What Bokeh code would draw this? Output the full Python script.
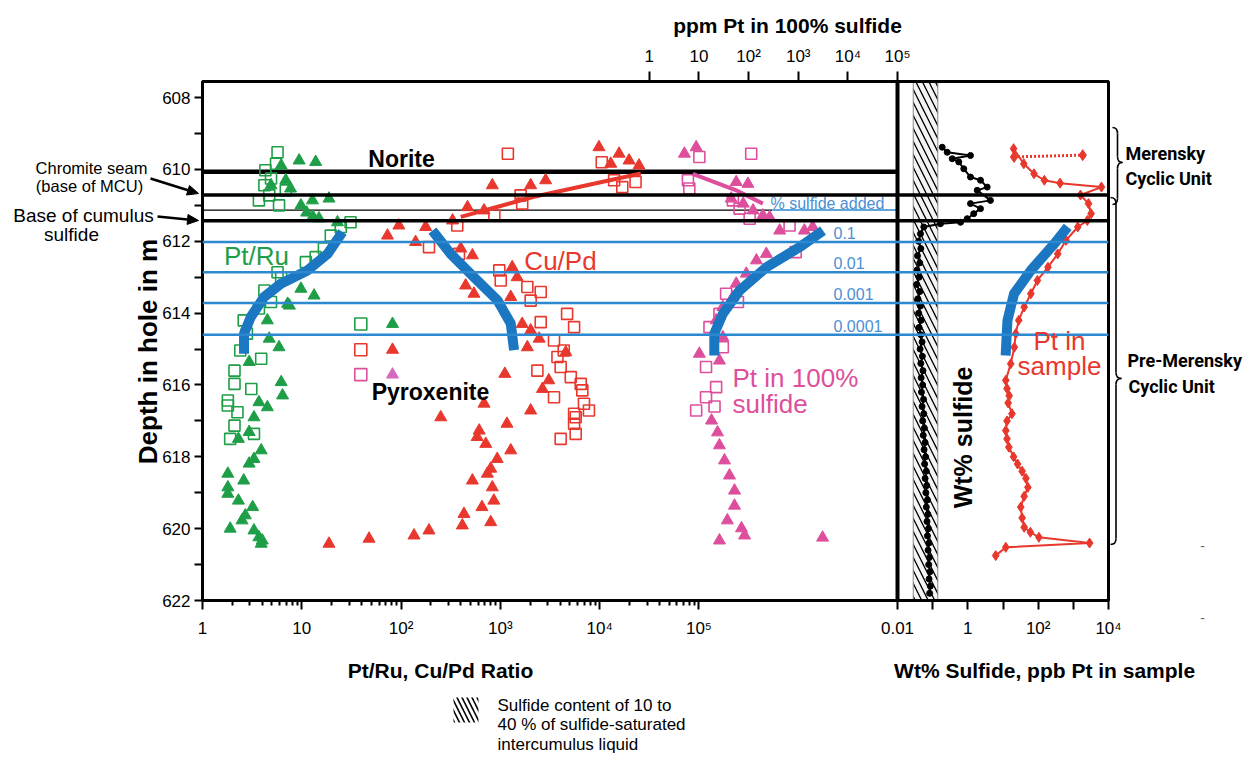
import math
from bokeh.plotting import figure
from bokeh.models import (Range1d, LogScale, LogAxis, FixedTicker, Span)
from bokeh.core.properties import value
from bokeh.embed import file_html
from bokeh.resources import INLINE

# ---------------- data ----------------
depth_ticks = [608, 610, 612, 614, 616, 618, 620, 622]
depth_minor = [609, 611, 613, 615, 617, 619, 621]
ratio_ticks = [1, 10, 100, 1000, 10000, 100000]
ratio_labels = ["1", "10", "10²", "10³", "10⁴", "10⁵"]
ppm_ticks = [1, 10, 100, 1000, 10000, 100000]
ppm_labels = ["1", "10", "10²", "10³", "10⁴", "10⁵"]
wt_ticks = [0.01, 0.1, 1, 10, 100, 1000, 10000]
wt_labels = ["0.01", "", "1", "", "10²", "", "10⁴"]

norite_depth = 610.06
chromite_depth = 610.71
thin_depth = 611.13
base_sulfide_depth = 611.43
added_depths = [612.02, 612.86, 613.72, 614.60]
added_labels = ["0.1", "0.01", "0.001", "0.0001"]
hatch_band = [0.028, 0.14]

# Pt/Ru (green)
ptru_sq_x = [5.7, 5.5, 4.3, 4.2, 3.7, 4.7, 5.9, 6.9, 4.9, 31.0, 24.7, 19.6, 16.7, 13.8, 11.0, 5.7, 6.2,
             4.2, 4.9, 3.7, 2.6, 2.8, 2.4, 3.9, 2.1, 2.1, 3.1, 1.8, 1.8, 2.25, 2.1, 3.3, 1.9]
ptru_sq_d = [609.52, 609.84, 610.02, 610.44, 610.86, 610.72, 611.0, 610.58, 610.25, 611.47, 611.6, 611.84,
             612.2, 612.44, 612.58, 612.86, 613.0, 613.37, 613.69, 613.87, 614.2, 614.57, 615.04, 615.27,
             615.6, 615.97, 616.11, 616.43, 616.57, 616.76, 617.13, 617.36, 617.5]
ptru_tri_x = [9.4, 13.8, 6.2, 4.9, 6.9, 7.7, 12.8, 18.8, 9.8, 11.2, 12.9, 14.9, 22.9, 9.8, 13.3, 7.2, 7.5,
              4.5, 4.7, 5.9, 2.95, 6.2, 6.4, 3.7, 4.5, 3.3, 2.95, 2.3, 3.9, 3.3, 2.95, 2.6, 1.8, 1.8, 1.8,
              2.3, 3.2, 2.7, 2.5, 1.9, 3.3, 3.7, 4.0, 3.9]
ptru_tri_d = [609.75, 609.79, 609.89, 610.44, 610.3, 610.53, 610.86, 610.81, 611.0, 611.2, 611.31, 611.36,
              611.47, 613.32, 613.51, 613.74, 613.79, 614.2, 614.71, 614.95, 615.36, 615.92, 616.29, 616.48,
              616.62, 616.9, 617.31, 617.5, 617.82, 618.06, 618.19, 618.66, 618.47, 618.85, 619.03, 619.22,
              619.4, 619.63, 619.77, 620.0, 620.05, 620.24, 620.33, 620.42]

# Cu/Pd (red)
cupd_sq_x = [1190, 10500, 16900, 23000, 14000, 1600, 1660, 870, 368, 191, 383, 975, 1009, 1870, 2550, 2020,
             4700, 2550, 5530, 3470, 4350, 3760, 4050, 2360, 5120, 6450, 3470, 6690, 7800, 5530, 6950, 5740,
             5530, 5740, 4050]
cupd_sq_d = [609.56, 609.8, 610.49, 610.35, 610.3, 610.72, 610.95, 611.28, 611.56, 612.16, 612.35, 612.81,
             613.09, 613.27, 613.41, 613.65, 614.02, 614.25, 614.39, 614.76, 615.04, 615.22, 615.5, 615.6,
             615.78, 615.97, 616.34, 616.15, 616.71, 616.8, 616.52, 616.9, 617.08, 617.36, 617.5]
cupd_tri_x = [9840, 15700, 19800, 24900, 12940, 2860, 2020, 830, 467, 685, 330, 73, 95, 140, 177, 399, 523,
              447, 542, 1317, 1475, 1273, 1660, 2020, 2460, 1870, 4560, 1110, 3075, 2655, 2020, 685, 251, 612,
              584, 713, 1165, 1273, 930, 800, 740, 523, 830, 860, 653, 430, 800, 414, 191, 135, 18.8, 47.6]
cupd_tri_d = [609.38, 609.56, 609.75, 609.89, 609.84, 610.3, 610.44, 610.44, 611.05, 611.14, 611.42, 611.84,
              611.56, 612.02, 611.6, 612.2, 612.39, 613.23, 613.46, 612.72, 613.0, 613.55, 614.3, 614.48,
              614.71, 614.95, 615.09, 615.69, 615.87, 616.11, 616.71, 616.52, 616.9, 617.27, 617.45, 617.64,
              617.08, 617.82, 618.06, 618.33, 618.47, 618.66, 618.85, 619.22, 619.4, 619.59, 619.82, 619.91,
              620.05, 620.19, 620.42, 620.28]
cupd_trend_x = [399, 2180, 26000]
cupd_trend_d = [611.32, 610.76, 610.11]

# Pt in 100% sulfide (pink, ppm, top axis)
pts_sq_x = [10.2, 113, 6.0, 6.4, 48.3, 65.8, 105, 670, 890, 35.3, 61, 25.9, 16.3, 30.3, 13.9, 22.2, 13.9,
            8.8, 20.6]
pts_sq_d = [609.65, 609.56, 610.3, 610.53, 610.86, 611.09, 611.37, 611.56, 612.3, 613.46, 613.69, 614.02,
            614.39, 614.95, 615.5, 616.06, 616.34, 616.71, 616.6]
pts_tri_x = [8.8, 5.1, 56.4, 97, 44.6, 78, 123, 194, 266, 423, 1330, 1960, 228, 144, 90, 56.4, 48.3, 30.3,
             22.2, 30.3, 10.2, 25.9, 17.9, 23.7, 25.9, 32.7, 41.3, 52.1, 52.1, 37.4, 72, 83, 25.9, 3100]
pts_tri_d = [609.38, 609.56, 610.35, 610.4, 610.81, 610.95, 611.14, 611.28, 611.33, 611.7, 611.7, 611.6,
             612.35, 612.53, 612.9, 613.18, 613.55, 613.83, 614.2, 614.67, 615.13, 615.32, 616.99, 617.32,
             617.68, 618.1, 618.52, 618.94, 619.36, 619.77, 619.99, 620.19, 620.33, 620.25]
pts_trend_x = [7.5, 56.4, 194]
pts_trend_d = [610.12, 610.58, 610.95]

# marker key (no text in the original)
key_sq_x = [39.3, 39.3, 39.3]
key_tri_x = [82, 82, 82]
key_d = [614.3, 615.02, 615.71]

# model curves (% sulfide added)
ptru_model_x = [25.7, 18.2, 11.4, 6.15, 4.17, 3.06, 2.62, 2.62]
ptru_model_d = [611.74, 612.35, 612.81, 613.18, 613.55, 614.11, 614.57, 615.13]
cupd_model_x = [207, 316, 543, 935, 1273, 1374]
cupd_model_d = [611.70, 612.35, 613.0, 613.64, 614.29, 615.03]
pts_model_x = [3162, 1072, 229, 66, 30.2, 20.4, 20.4]
pts_model_d = [611.70, 612.16, 612.72, 613.37, 614.02, 614.57, 615.18]
ptsamp_model_x = [692, 286, 62, 20.6, 13.4, 11.9]
ptsamp_model_d = [611.60, 612.07, 612.81, 613.46, 614.2, 615.18]

# Wt% sulfide (black)
sulf_d = [609.38, 609.52, 609.61, 609.70, 609.79, 609.98, 610.21, 610.30, 610.49, 610.58, 610.86, 610.95,
          611.09, 611.23, 611.37, 611.47, 611.51, 611.60, 611.79,
          612.0, 612.2, 612.4, 612.6, 612.8, 613.0, 613.2, 613.4, 613.6, 613.8, 614.0, 614.2, 614.4, 614.6,
          614.8, 615.0, 615.2, 615.4, 615.6, 615.8, 616.0, 616.2, 616.4, 616.6, 616.8, 617.0, 617.2, 617.4,
          617.6, 617.8, 618.0, 618.2, 618.4, 618.6, 618.8, 619.0, 619.2, 619.4, 619.6, 619.8, 620.0, 620.2,
          620.4, 620.6, 620.8, 621.0, 621.2, 621.4, 621.6, 621.8]
sulf_x = [0.187, 0.259, 1.19, 0.359, 0.553, 0.767, 1.19, 2.29, 3.55, 1.85, 4.4, 1.19, 2.29, 1.47, 0.96, 0.62,
          0.167, 0.056, 0.045,
          0.040, 0.046, 0.037, 0.043, 0.036, 0.041, 0.035, 0.043, 0.038, 0.045, 0.040, 0.047, 0.041, 0.046,
          0.050, 0.044, 0.051, 0.046, 0.053, 0.047, 0.052, 0.048, 0.055, 0.050, 0.056, 0.052, 0.058, 0.054,
          0.061, 0.057, 0.063, 0.059, 0.066, 0.061, 0.068, 0.064, 0.071, 0.066, 0.073, 0.069, 0.076, 0.071,
          0.079, 0.074, 0.081, 0.077, 0.084, 0.079, 0.086, 0.082]

# Pt in sample (red diamonds, ppb)
ptsamp_d = [609.42, 609.84, 610.12, 610.30, 610.38, 610.49, 610.71, 610.95, 611.23, 611.42, 611.60, 611.97,
            612.35, 612.72, 613.09, 613.46, 613.83, 614.20, 614.57, 614.95, 615.41, 615.87, 616.10, 616.30,
            616.50, 616.80, 617.00, 617.27, 617.50, 617.73, 618.00, 618.20, 618.40, 618.60, 618.85, 619.10,
            619.40, 619.70, 619.96, 620.10, 620.24, 620.40, 620.52, 620.75]
ptsamp_x = [20, 39, 76, 150, 420, 6300, 1600, 2700, 3200, 2500, 1340, 620, 360, 190, 95, 62, 40, 28, 23, 21,
            16.6, 12, 13, 15, 14, 18, 13, 12, 13, 14.7, 20, 26, 35, 45, 51, 40, 32, 35, 40, 60, 105, 2900, 12,
            6.2]
ptsamp_dot_x = [20.6, 1850]
ptsamp_dot_d = [609.65, 609.60]

# ---------------- layout geometry ----------------
W, H = 1256, 762
FL, FR, FT, FB = 202, 1108, 81, 600
SPLIT = 897
D_TOP, D_BOT = 607.55, 622.0
L_DEC = (SPLIT - FL) / 7.0
T_DEC = (SPLIT - FL) / 14.0
R_DEC = (FR - SPLIT) / 6.0


def lx(px):
    return 10 ** ((px - FL) / L_DEC)


def tx(px):
    return 10 ** (-9 + (px - FL) / T_DEC)


def rx(px):
    return 10 ** (4 - (FR - px) / R_DEC)


def dy(py):
    return D_TOP + (py - FT) * (D_BOT - D_TOP) / (FB - FT)


def d2py(d):
    return FT + (d - D_TOP) * (FB - FT) / (D_BOT - D_TOP)


def r2l(v):
    return lx(FR - (4 - math.log10(v)) * R_DEC)


FONT = "Liberation Sans"
GREEN = "#1f9e48"
RED = "#e8382e"
PINK = "#dd4f9c"
BLUE_MODEL = "#1b77c2"
BLUE_LINE = "#2c88cf"
BLUE_TEXT = "#4a8fd4"

p = figure(width=W, height=H, x_axis_type="log",
           x_range=Range1d(1, lx(FR)), y_range=Range1d(D_BOT, D_TOP),
           min_border_left=FL, min_border_right=W - FR, min_border_top=FT, min_border_bottom=H - FB,
           output_backend="svg", toolbar_location=None)
p.extra_x_ranges = {"top": Range1d(1e-9, tx(FR)), "right": Range1d(rx(FL), 1e4)}
p.extra_x_scales = {"top": LogScale(), "right": LogScale()}
p.xgrid.visible = False
p.ygrid.visible = False
p.outline_line_color = "black"
p.outline_line_width = 3

# bottom axis (ratio ticks + wt% ticks on one line)
xa = p.xaxis[0]
bottom_ticks = list(ratio_ticks) + [r2l(v) for v in wt_ticks]
bottom_minor = [k * 10 ** e for e in range(5) for k in range(2, 10)]
xa.ticker = FixedTicker(ticks=bottom_ticks, minor_ticks=bottom_minor)
ov = {t: s for t, s in zip(ratio_ticks, ratio_labels)}
ov.update({r2l(v): s for v, s in zip(wt_ticks, wt_labels)})
xa.major_label_overrides = ov
xa.major_tick_out = 9
xa.minor_tick_out = 5
xa.major_label_standoff = 9

ya = p.yaxis[0]
ya.ticker = FixedTicker(ticks=depth_ticks, minor_ticks=depth_minor)
ya.major_tick_out = 8
ya.minor_tick_out = 8
ya.major_label_standoff = 4

ta = LogAxis(x_range_name="top", ticker=FixedTicker(ticks=ppm_ticks, minor_ticks=[]),
             major_label_overrides={t: s for t, s in zip(ppm_ticks, ppm_labels)})
ta.major_tick_out = 10
ta.major_label_standoff = 6
p.add_layout(ta, "above")

for ax in (xa, ya, ta):
    ax.axis_line_width = 3
    ax.major_tick_line_width = 2
    ax.minor_tick_line_width = 2
    ax.major_tick_in = 0
    ax.minor_tick_in = 0
    ax.major_label_text_font = FONT
    ax.major_label_text_font_size = "17px"
    ax.major_label_text_color = "black"

# hatched sulfide band
p.quad(left=[hatch_band[0]], right=[hatch_band[1]], bottom=[D_BOT], top=[D_TOP], x_range_name="right",
       fill_color="#f4f4f4", hatch_pattern="\\", hatch_color="black", hatch_weight=1.3, hatch_scale=13,
       line_color="#8a8a8a", line_width=1)

# horizontal boundaries
p.line([1, 1e7], [norite_depth, norite_depth], line_color="black", line_width=4.5)
p.add_layout(Span(location=chromite_depth, dimension="width", line_color="black", line_width=3.5))
p.line([1, lx(772)], [thin_depth, thin_depth], line_color="black", line_width=1.3)
p.line([lx(772), 1e7], [thin_depth, thin_depth], line_color=BLUE_LINE, line_width=1.5)
p.add_layout(Span(location=base_sulfide_depth, dimension="width", line_color="black", line_width=3.5))
for d in added_depths:
    p.add_layout(Span(location=d, dimension="width", line_color=BLUE_LINE, line_width=2.5))
p.line([1e7, 1e7], [D_TOP, D_BOT], line_color="black", line_width=4)

# scatter data
p.scatter(ptru_sq_x, ptru_sq_d, marker="square", size=11, fill_color=None, line_color=GREEN, line_width=1.6)
p.scatter(ptru_tri_x, ptru_tri_d, marker="triangle", size=12, fill_color=GREEN, line_color=GREEN)
p.line(cupd_trend_x, cupd_trend_d, line_color=RED, line_width=4)
p.scatter(cupd_sq_x, cupd_sq_d, marker="square", size=11, fill_color=None, line_color=RED, line_width=1.6)
p.scatter(cupd_tri_x, cupd_tri_d, marker="triangle", size=12, fill_color=RED, line_color=RED)
p.line(pts_trend_x, pts_trend_d, x_range_name="top", line_color=PINK, line_width=4)
p.scatter(pts_sq_x, pts_sq_d, x_range_name="top", marker="square", size=11, fill_color=None,
          line_color=PINK, line_width=1.6)
p.scatter(pts_tri_x, pts_tri_d, x_range_name="top", marker="triangle", size=12, fill_color=PINK,
          line_color=PINK)
p.scatter(key_sq_x, key_d, marker="square", size=12, fill_color=None, line_color=[GREEN, RED, PINK],
          line_width=1.6)
p.scatter(key_tri_x, key_d, marker="triangle", size=12, fill_color=[GREEN, RED, "#d46ac0"],
          line_color=[GREEN, RED, "#d46ac0"])

# right panel
p.line(sulf_x, sulf_d, x_range_name="right", line_color="black", line_width=2)
p.scatter(sulf_x, sulf_d, x_range_name="right", marker="circle", size=6, color="black")
p.line(ptsamp_dot_x, ptsamp_dot_d, x_range_name="right", line_color=RED, line_width=3, line_dash="2 2")
p.scatter(ptsamp_dot_x, ptsamp_dot_d, x_range_name="right", marker="diamond", size=11, color=RED)
p.line(ptsamp_x, ptsamp_d, x_range_name="right", line_color=RED, line_width=2)
p.scatter(ptsamp_x, ptsamp_d, x_range_name="right", marker="diamond", size=10, color=RED)

# model curves
for xs, ds, rn in ((ptru_model_x, ptru_model_d, "default"), (cupd_model_x, cupd_model_d, "default"),
                   (pts_model_x, pts_model_d, "top"), (ptsamp_model_x, ptsamp_model_d, "right")):
    p.line(xs, ds, x_range_name=rn, line_color=BLUE_MODEL, line_width=10, line_join="round")


# ---------------- texts (overlay text glyphs, not clipped to the frame) ----------------
def lab(text, px, py, size, color="black", bold=False, align="left", angle=0, font=FONT):
    p.text(x=[lx(px)], y=[dy(py)], text=[text], text_font=value(font), text_font_size=value(f"{size}px"),
           text_font_style="bold" if bold else "normal", text_color=color,
           text_align=align, text_baseline="middle", angle=angle, level="overlay")


lab("ppm Pt in 100% sulfide", 787, 25, 21, bold=True, align="center")
lab("Pt/Ru, Cu/Pd Ratio", 440, 670, 21, bold=True, align="center")
lab("Wt% Sulfide,  ppb Pt in sample", 1047, 670, 21, bold=True, align="center")
lab("Depth in hole in m", 147, 351, 26, bold=True, align="center", angle=math.pi / 2)
lab("Chromite seam", 91, 167, 16.5, align="center")
lab("(base of MCU)", 89, 185, 16.5, align="center")
lab("Base of cumulus", 83, 215, 19, align="center")
lab("sulfide", 71, 234, 19, align="center")
lab("Norite", 401, 158, 23, bold=True, align="center")
lab("Pyroxenite", 430, 391, 23, bold=True, align="center")
lab("Pt/Ru", 256, 255, 26, color=GREEN, align="center")
lab("Cu/Pd", 560, 260, 26, color=RED, align="center")
lab("Pt in 100%", 732, 377, 26, color=PINK)
lab("sulfide", 732, 403, 26, color=PINK)
lab("% sulfide added", 770, 203, 16, color=BLUE_TEXT)
for d, t in zip(added_depths, added_labels):
    lab(t, 833, d2py(d) - 9, 16, color=BLUE_TEXT)
lab("Wt% sulfide", 962, 437, 25, bold=True, align="center", angle=math.pi / 2)
lab("Pt in", 1059, 340, 26, color=RED, align="center")
lab("sample", 1059, 365, 26, color=RED, align="center")
UNIT_FONT = "Roboto"
lab("Merensky", 1125, 153, 18, bold=True, font=UNIT_FONT)
lab("Cyclic Unit", 1125, 178, 18, bold=True, font=UNIT_FONT)
lab("Pre-Merensky", 1127, 360, 18, bold=True, font=UNIT_FONT)
lab("Cyclic Unit", 1128, 386, 18, bold=True, font=UNIT_FONT)
lab("Sulfide content of 10 to", 497, 705, 17)
lab("40 % of sulfide-saturated", 497, 724, 17)
lab("intercumulus liquid", 497, 744, 17)
lab("-", 1202, 545, 14, color="#666666", align="center")
lab("-", 1202, 617, 14, color="#666666", align="center")


# arrows (line + head), drawn as overlay glyphs
def arrow(x0, y0, x1, y1, head=11, half=5):
    L = math.hypot(x1 - x0, y1 - y0)
    ux, uy = (x1 - x0) / L, (y1 - y0) / L
    bx, by = x1 - ux * head, y1 - uy * head
    p.line([lx(x0), lx(bx)], [dy(y0), dy(by)], line_color="black", line_width=2.5, level="overlay")
    hx = [x1, bx - uy * half, bx + uy * half]
    hy = [y1, by + ux * half, by - ux * half]
    p.patch([lx(v) for v in hx], [dy(v) for v in hy], fill_color="black", line_color="black",
            level="overlay")


arrow(150, 178, 198, 193)
arrow(157, 216, 198, 220)

# legend hatch box
p.quad(left=[lx(453)], right=[lx(478)], top=[dy(697)], bottom=[dy(722)], fill_color="white",
       hatch_pattern="\\", hatch_color="black", hatch_weight=1.6, hatch_scale=10, line_color=None,
       level="overlay")


# braces
def brace(xl, xt, y0, yc, y1):
    xm = (xl + xt) / 2.0
    r = 6
    qs = [((xl, y0), (xm, y0 + r), (xm, y0)), ((xm, yc - r), (xt, yc), (xm, yc)),
          ((xt, yc), (xm, yc + r), (xm, yc)), ((xm, y1 - r), (xl, y1), (xm, y1))]
    p.quadratic(x0=[rx(a[0]) for a, b, c in qs], y0=[dy(a[1]) for a, b, c in qs],
                x1=[rx(b[0]) for a, b, c in qs], y1=[dy(b[1]) for a, b, c in qs],
                cx=[rx(c[0]) for a, b, c in qs], cy=[dy(c[1]) for a, b, c in qs],
                x_range_name="right", line_color="black", line_width=1.6, level="overlay")
    p.segment(x0=[rx(xm), rx(xm)], y0=[dy(y0 + r), dy(yc + r)], x1=[rx(xm), rx(xm)],
              y1=[dy(yc - r), dy(y1 - r)], x_range_name="right", line_color="black", line_width=1.6,
              level="overlay")


brace(1112, 1122, 127, 162, 204)
brace(1110, 1121, 197, 378, 544)

open("out.html", "w").write(file_html(p, INLINE))
